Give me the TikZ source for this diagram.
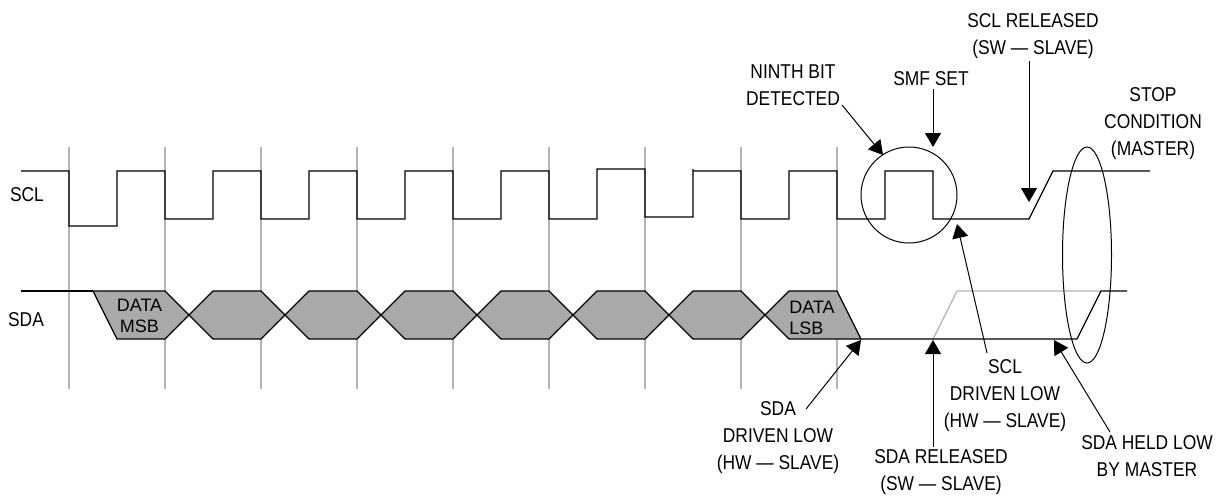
\documentclass[tikz,border=0pt]{standalone}
\usepackage{fontspec}
\setmainfont{Liberation Sans}
\newfontfamily\labfont[FakeStretch=0.87]{Liberation Sans}
\usetikzlibrary{arrows.meta}
\definecolor{busgray}{HTML}{A9A9A9}
\definecolor{gridgray}{HTML}{B4B4B4}
\tikzset{
  x=1pt,y=-1pt,
  gridline/.style={draw=gridgray,line width=1.2pt},
  wave/.style={draw=black,line width=1.3pt,line join=miter},
  bus/.style={draw=black,fill=busgray,line width=1.2pt,line join=miter},
  ghost/.style={draw=gridgray,line width=1.2pt},
  mark ring/.style={draw=black,line width=1pt},
  arw/.style={draw=black,line width=1pt,-{Triangle[length=14pt,width=16pt]}},
  lab/.style={inner sep=0pt,align=center,font=\labfont\fontsize{20}{27}\selectfont},
  buslab/.style={inner sep=0pt,align=center,font=\fontsize{18}{21}\selectfont},
}
\begin{document}
\begin{tikzpicture}
\useasboundingbox (0,0) rectangle (1223,496);
% grid
\foreach \g in {69,165,261,357,453,549,645,741,837}
  \draw[gridline] (\g,147) -- (\g,389);
% SDA busses
\draw[bus] (93,291) -- (165,291) -- (189,315) -- (165,339) -- (117,339) -- cycle;
\foreach \c in {189,285,381,477,573,669}
  \draw[bus] (\c,315) -- (\c+24,291) -- (\c+72,291) -- (\c+96,315) -- (\c+72,339) -- (\c+24,339) -- cycle;
\draw[bus] (765,315) -- (789,291) -- (837,291) -- (861,339) -- (789,339) -- cycle;
% SDA line
\draw[ghost] (933,339) -- (957,291) -- (1101,291);
\draw[wave] (21,291) -- (93,291);
\draw[wave] (861,339) -- (1077,339) -- (1101,291) -- (1127,291);
% SCL line
\draw[wave] (21,171) -- (69,171) -- (69,226) -- (117,226) -- (117,171) -- (165,171) -- (165,219)
  -- (213,219) -- (213,171) -- (261,171) -- (261,219) -- (309,219) -- (309,171) -- (357,171) -- (357,219)
  -- (405,219) -- (405,171) -- (453,171) -- (453,219) -- (501,219) -- (501,171) -- (549,171) -- (549,219)
  -- (597,219) -- (597,169) -- (645,169) -- (645,217) -- (693,217) -- (693,169) -- (693,171) -- (741,171) -- (741,219)
  -- (789,219) -- (789,171) -- (837,171) -- (837,219) -- (885,219) -- (885,171) -- (933,171) -- (933,219)
  -- (1029,219) -- (1053,171) -- (1150,171);
% markers
\node[mark ring,circle,minimum size=96pt,inner sep=0pt] (ring) at (909,195) {};
\draw[mark ring] (1087,255) ellipse [x radius=24.5,y radius=108];
% labels
\node[lab] (sclname) at (27,195) {SCL};
\node[lab] (sdaname) at (26,320) {SDA};
\node[buslab] (msb) at (139.5,315.5) {DATA\\MSB};
\node[buslab,align=left] (lsb) at (812,318) {DATA\\LSB};
\node[lab] (sclrel) at (1033,36) {SCL RELEASED\\(SW — SLAVE)};
\node[lab] (ninth) at (793,85) {NINTH BIT\\DETECTED};
\node[lab] (smf) at (931,79) {SMF SET};
\node[lab] (stop) at (1153,124) {STOP\\CONDITION\\(MASTER)};
\node[lab] (scldrv) at (1005,396) {SCL\\DRIVEN LOW\\(HW — SLAVE)};
\node[lab] (sdadrv) at (778,438) {SDA\\DRIVEN LOW\\(HW — SLAVE)};
\node[lab] (sdarel) at (941,472) {SDA RELEASED\\(SW — SLAVE)};
\node[lab] (sdaheld) at (1147,456) {SDA HELD LOW\\BY MASTER};
% arrow ends
\coordinate (tninth) at (883,155);
\coordinate (tsmf) at (933,147);
\coordinate (tsclrel) at (1029,202);
\coordinate (tscldrv) at (957,224);
\coordinate (tsdadrv) at (861,340);
\coordinate (tsdarel) at (933,340);
\coordinate (tsdaheld) at (1054,340);
\coordinate (fninth) at (842,105);
\coordinate (fsmf) at (933,89);
\coordinate (fsclrel) at (1029,61);
\coordinate (fscldrv) at (987,353);
\coordinate (fsdadrv) at (806,409);
\coordinate (fsdarel) at (933,447);
\coordinate (fsdaheld) at (1110,432);
\draw[arw] (fninth) -- (tninth);
\draw[arw] (fsmf) -- (tsmf);
\draw[arw] (fsclrel) -- (tsclrel);
\draw[arw] (fscldrv) -- (tscldrv);
\draw[arw] (fsdadrv) -- (tsdadrv);
\draw[arw] (fsdarel) -- (tsdarel);
\draw[arw] (fsdaheld) -- (tsdaheld);
\end{tikzpicture}
\end{document}
